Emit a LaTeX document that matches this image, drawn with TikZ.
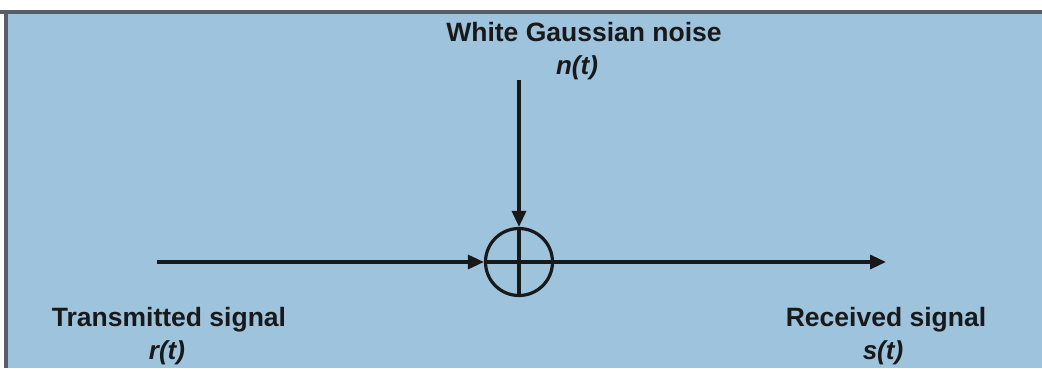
\documentclass[tikz,border=0pt]{standalone}
\usepackage{fontspec}
\setmainfont{Liberation Sans}
\usetikzlibrary{arrows.meta}
\definecolor{bgblue}{RGB}{157,195,221}
\definecolor{edgegray}{RGB}{85,95,105}
\tikzset{
  sig/.style={line width=3.2pt, draw=black!90},
  sigarrow/.style={sig, -{Triangle[length=16pt,width=14pt]}},
  lbl/.style={font=\bfseries\fontsize{26.5}{30}\selectfont, text=black!90, inner sep=0pt, align=center},
  sym/.style={font=\bfseries\itshape\fontsize{26}{30}\selectfont, text=black!90, inner sep=0pt},
}
\begin{document}
\begin{tikzpicture}[x=1pt,y=1pt]
\useasboundingbox (0,0) rectangle (1042,368);
\fill[white] (0,0) rectangle (1042,368);
\fill[bgblue] (5,0) rectangle (1042,356);
\fill[edgegray] (0,354) rectangle (1042,358);
\fill[edgegray] (4,0) rectangle (8,358);
% summing junction
\node[draw=black!90, line width=3.2pt, circle, minimum size=67pt, inner sep=0pt] (sum) at (519,106) {};
\draw[sig] (sum.north) -- (sum.south);
\coordinate (inL) at (157,106);
\coordinate (outR) at (886,106);
\coordinate (noiseTop) at (519,288);
\draw[sigarrow] (inL) -- (sum.west);
\draw[sig] (sum.west) -- (sum.east);
\draw[sigarrow] (sum.east) -- (outR);
\draw[sigarrow] (noiseTop) -- (sum.north);
% labels
\node[lbl] (wgn) at (584,336) {White Gaussian noise};
\node[sym] (nt) at (577,300) {n(t)};
\node[lbl] (tx) at (169,48) {Transmitted signal};
\node[sym] (rt) at (167,15) {r(t)};
\node[lbl] (rx) at (886,48) {Received signal};
\node[sym] (st) at (883,15) {s(t)};
\end{tikzpicture}
\end{document}
